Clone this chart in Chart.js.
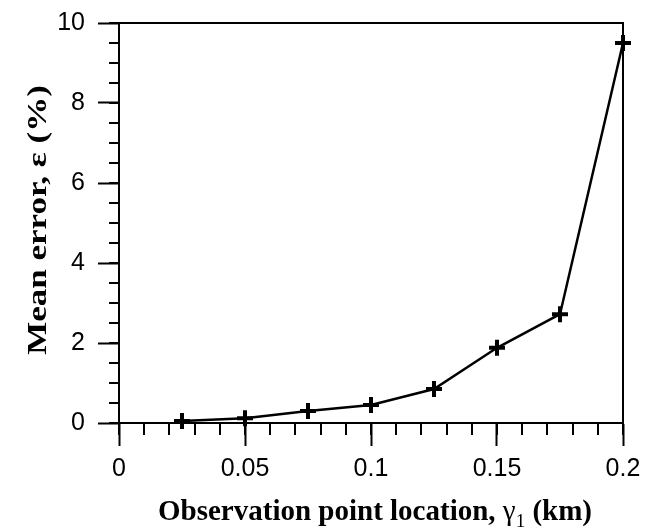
<!DOCTYPE html>
<html lang="en">
<head>
    <meta charset="UTF-8">
    <title>Mean error vs observation point location</title>
    <script src="https://cdn.jsdelivr.net/npm/chart.js@4.4.1/dist/chart.umd.min.js"></script>
    <style>
        body {
            margin: 0;
            background-color: white;
        }
        .chart-container {
            position: relative;
            width: 648px;
            height: 528px;
        }
    </style>
</head>
<body>
    <div class="chart-container">
        <canvas id="errChart"></canvas>
    </div>

    <script>
        // data
        const locations = [0.025, 0.05, 0.075, 0.1, 0.125, 0.15, 0.175, 0.2];
        const meanError = [0.05, 0.12, 0.3, 0.45, 0.85, 1.88, 2.72, 9.5];

        const xTickLabels = ['0', '0.05', '0.1', '0.15', '0.2'];
        const yTickLabels = ['0', '2', '4', '6', '8', '10'];
        const xMinorStep = 0.01;
        const yMinorStep = 0.5;

        const points = locations.map((x, i) => ({ x: x, y: meanError[i] }));

        // frame, minor ticks and axis titles
        const framePlugin = {
            id: 'frame',
            afterDraw(chart) {
                const ctx = chart.ctx;
                const a = chart.chartArea;
                const xs = chart.scales.x;
                const ys = chart.scales.y;
                ctx.save();
                ctx.strokeStyle = '#000';
                ctx.lineWidth = 2;
                ctx.strokeRect(a.left, a.top, a.right - a.left, a.bottom - a.top);

                // minor ticks
                ctx.beginPath();
                for (let v = xs.min; v <= xs.max + 1e-9; v += xMinorStep) {
                    const px = Math.round(xs.getPixelForValue(v));
                    ctx.moveTo(px, a.bottom);
                    ctx.lineTo(px, a.bottom + 12);
                }
                for (let v = ys.min; v <= ys.max + 1e-9; v += yMinorStep) {
                    const py = Math.round(ys.getPixelForValue(v));
                    ctx.moveTo(a.left, py);
                    ctx.lineTo(a.left - 10, py);
                }
                ctx.stroke();

                ctx.fillStyle = '#000';
                // y title (the original lettering is stretched along its length)
                ctx.save();
                ctx.translate(46, 220);
                ctx.rotate(-Math.PI / 2);
                ctx.scale(1.25, 1);
                ctx.font = 'bold 28px "Liberation Serif", "Times New Roman", serif';
                ctx.textAlign = 'center';
                ctx.textBaseline = 'alphabetic';
                ctx.fillText('Mean error, \u03b5 (%)', 0, 0);
                ctx.restore();

                // x title with subscript
                const bold = 'bold 29px "Liberation Serif", "Times New Roman", serif';
                const plain = '29px "Liberation Serif", "Times New Roman", serif';
                const sub = '19px "Liberation Serif", "Times New Roman", serif';
                const parts = [
                    { t: 'Observation point location, ', f: bold, dy: 0 },
                    { t: '\u03b3', f: plain, dy: 0 },
                    { t: '1', f: sub, dy: 7 },
                    { t: ' (km)', f: bold, dy: 0 }
                ];
                let total = 0;
                parts.forEach(p => { ctx.font = p.f; p.w = ctx.measureText(p.t).width; total += p.w; });
                let x = 375 - total / 2;
                const base = 520;
                ctx.textAlign = 'left';
                ctx.textBaseline = 'alphabetic';
                parts.forEach(p => {
                    ctx.font = p.f;
                    ctx.fillText(p.t, x, base + p.dy);
                    x += p.w;
                });
                ctx.restore();
            }
        };

        const tickFont = { family: '"Liberation Sans", Arial, sans-serif', size: 25 };

        const errChart = new Chart(document.getElementById('errChart').getContext('2d'), {
            type: 'line',
            data: {
                datasets: [{
                    data: points,
                    borderColor: '#000',
                    backgroundColor: '#000',
                    borderWidth: 2.5,
                    tension: 0,
                    pointStyle: 'cross',
                    pointRadius: 8,
                    pointBorderWidth: 4,
                    pointHoverRadius: 8,
                    clip: false
                }]
            },
            options: {
                responsive: true,
                maintainAspectRatio: false,
                animation: false,
                layout: {
                    padding: { left: 0, top: 23, right: 25, bottom: 0 }
                },
                plugins: {
                    legend: { display: false },
                    tooltip: { enabled: false }
                },
                scales: {
                    x: {
                        type: 'linear',
                        min: 0,
                        max: 0.2,
                        afterBuildTicks(scale) {
                            scale.ticks = xTickLabels.map(l => ({ value: parseFloat(l) }));
                        },
                        ticks: {
                            color: '#000',
                            font: tickFont,
                            padding: 8,
                            maxRotation: 0,
                            callback: (v, i) => xTickLabels[i]
                        },
                        grid: {
                            drawOnChartArea: false,
                            tickLength: 23,
                            tickWidth: 2,
                            tickColor: '#000'
                        },
                        border: { display: true, color: '#000', width: 2 },
                        afterFit(scale) {
                            scale.height = 105;
                            scale.paddingLeft = 0;
                            scale.paddingRight = 0;
                        }
                    },
                    y: {
                        type: 'linear',
                        min: 0,
                        max: 10,
                        afterBuildTicks(scale) {
                            scale.ticks = yTickLabels.map(l => ({ value: parseFloat(l) }));
                        },
                        ticks: {
                            color: '#000',
                            font: tickFont,
                            padding: 13,
                            callback: (v, i) => yTickLabels[i]
                        },
                        grid: {
                            drawOnChartArea: false,
                            tickLength: 21,
                            tickWidth: 2,
                            tickColor: '#000'
                        },
                        border: { display: true, color: '#000', width: 2 },
                        afterFit(scale) {
                            scale.width = 119;
                            scale.paddingTop = 0;
                            scale.paddingBottom = 0;
                        }
                    }
                }
            },
            plugins: [framePlugin]
        });
    </script>
</body>
</html>
